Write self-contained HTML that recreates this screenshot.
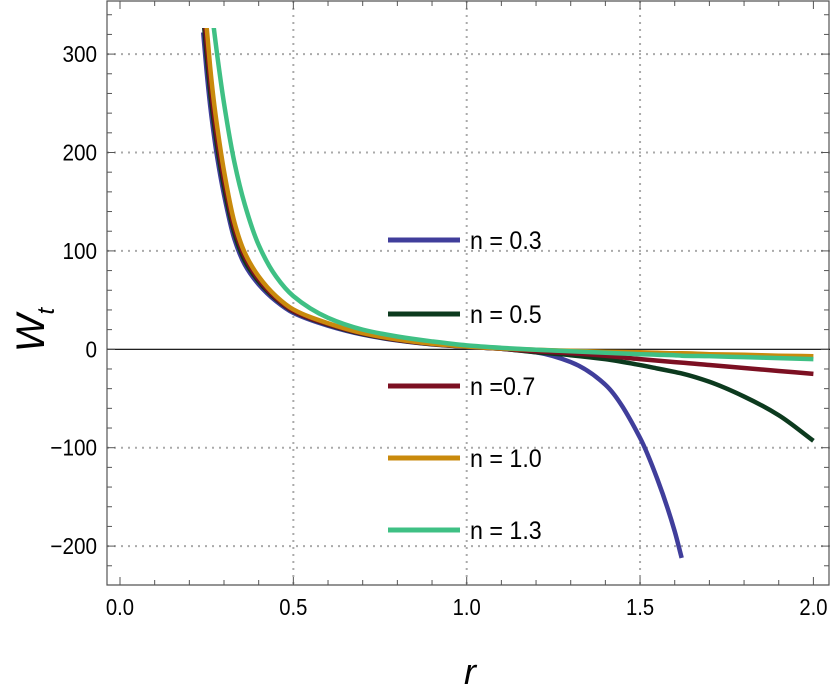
<!DOCTYPE html>
<html><head><meta charset="utf-8"><style>
body{margin:0;background:#fff;}
svg text{font-family:"Liberation Sans",sans-serif;}
</style></head><body>
<svg id="chart" width="830" height="692" viewBox="0 0 830 692" xmlns="http://www.w3.org/2000/svg">
<defs><clipPath id="clip"><rect x="107" y="28" width="723" height="557"/></clipPath></defs>
<g id="grid"></g>
<g id="axes"></g>
<g id="series" clip-path="url(#clip)"></g>
<g id="legend"></g>
<text x="0" y="0" transform="translate(44,330) rotate(-90)" text-anchor="middle" font-family="Liberation Serif,serif" font-style="italic" font-size="40">W<tspan font-size="24" dy="10">t</tspan></text>
<text x="470" y="684" text-anchor="middle" font-family="Liberation Sans,sans-serif" font-style="italic" font-size="36">r</text>
</svg>
<script>
const rGrid=[0.24,0.25,0.26,0.27,0.28,0.3,0.33,0.36,0.4,0.45,0.5,0.6,0.7,0.8,0.9,1.0,1.1,1.2,1.3,1.4,1.5,1.55,1.6,1.62,1.7,1.8,1.9,2.0];
const seriesNames=["n = 0.3","n = 0.5","n =0.7","n = 1.0","n = 1.3"];
const vals03=[322,282,248,220,196,157,112,86,66,49,37,24,15,9,5,2.5,0.5,-3,-13,-36,-90,-132,-185,-212,null,null,null,null];
const vals05=[340,298,262,232,207,165,118,90,69,51,38.5,25,15.5,9.3,5.2,2.6,0.5,-3,-6,-10,-16,-19.5,-23,-24.5,-33,-48,-67,-93];
const vals07=[354,310,272,241,215,172,123,94,71,52,39,25.5,16,9.6,5.4,2.7,0.6,-2,-4,-6.5,-10,-11.5,-13,-13.5,-16,-19,-22,-25];
const vals10=[374,327,287,254,227,181,129,98,74,54,40.5,26.5,16.5,10,5.6,2.8,0.8,-0.5,-1.5,-2.5,-3,-3.5,-4,-4,-5,-5.5,-6.5,-7];
const vals13=[450,400,360,328,300,250,190,147,106,74,54,32,20,13,8,4,1.5,-0.5,-2,-3.5,-5,-5.5,-6,-6.5,-7,-8,-9,-10];
const xTicks=[0.0,0.5,1.0,1.5,2.0];
const xTickLabels=["0.0","0.5","1.0","1.5","2.0"];
const yTicks=[300,200,100,0,-100,-200];
const yTickLabels=["300","200","100","0","\u2212100","\u2212200"];

const NS="http://www.w3.org/2000/svg";
const colors=["#403e9b","#0c3a1e","#7c1022","#c98a0c","#3fc084"];
const allVals=[vals03,vals05,vals07,vals10,vals13];
const X=r=>120+346.7*r;
const Y=v=>349.3-0.984*v;
function mk(tag,attrs,parent){const e=document.createElementNS(NS,tag);for(const k in attrs)e.setAttribute(k,attrs[k]);parent.appendChild(e);return e;}
const grid=document.getElementById('grid'),axes=document.getElementById('axes'),ser=document.getElementById('series'),leg=document.getElementById('legend');
xTicks.forEach(t=>{if(t>0&&t<2){const l=mk('line',{x1:X(t),x2:X(t),y1:1,y2:585,stroke:'#aaa','stroke-width':2,'stroke-dasharray':'2 5'},grid);

}});
yTicks.forEach(t=>{if(t!==0){const l=mk('line',{x1:107,x2:830,y1:Y(t),y2:Y(t),stroke:'#aaa','stroke-width':2,'stroke-dasharray':'2 5'},grid);

}});
const fr=mk('path',{d:'M107,1 L829,1 L829,585 L107,585 Z',fill:'none',stroke:'#555','stroke-width':1.2},axes);


const zl=mk('line',{x1:107,x2:830,y1:Y(0),y2:Y(0),stroke:'#000','stroke-width':1.2},axes);


for(let i=0;i<=20;i++){const t=i/10,big=(i%5===0);const x=X(t);
mk('line',{x1:x,x2:x,y1:585,y2:585-(big?8:5),stroke:'#555'},axes);
mk('line',{x1:x,x2:x,y1:1,y2:1+(big?8:5),stroke:'#555'},axes);}
for(let v=-240;v<=340;v+=20){const y=Y(v);if(y<1||y>585)continue;const big=(v%100===0);
mk('line',{x1:107,x2:107+(big?8:5),y1:y,y2:y,stroke:'#555'},axes);
mk('line',{x1:829,x2:829-(big?8:5),y1:y,y2:y,stroke:'#555'},axes);}
xTicks.forEach((t,i)=>{const tx=mk('text',{x:X(t),y:615,'text-anchor':'middle','font-size':23,transform:`translate(${X(t)},0) scale(0.88,1) translate(${-X(t)},0)`},axes);tx.textContent=xTickLabels[i];

});
yTicks.forEach((t,i)=>{const tx=mk('text',{x:97,y:Y(t)+8,'text-anchor':'end','font-size':23,transform:`translate(97,0) scale(0.9,1) translate(-97,0)`},axes);tx.textContent=yTickLabels[i];

});
// monotone cubic (Fritsch-Carlson) path
function pathFor(vals){const xs=[],ys=[];rGrid.forEach((r,i)=>{if(vals[i]!==null){xs.push(X(r));ys.push(Y(vals[i]));}});
const n=xs.length,d=[],m=new Array(n);
for(let i=0;i<n-1;i++)d.push((ys[i+1]-ys[i])/(xs[i+1]-xs[i]));
m[0]=d[0];m[n-1]=d[n-2];
for(let i=1;i<n-1;i++){if(d[i-1]*d[i]<=0)m[i]=0;else{const h0=xs[i]-xs[i-1],h1=xs[i+1]-xs[i];const w1=2*h1+h0,w2=h1+2*h0;m[i]=(w1+w2)/(w1/d[i-1]+w2/d[i]);}}
let p=`M${xs[0]},${ys[0]}`;
for(let i=0;i<n-1;i++){const h=(xs[i+1]-xs[i])/3;p+=` C${xs[i]+h},${ys[i]+m[i]*h} ${xs[i+1]-h},${ys[i+1]-m[i+1]*h} ${xs[i+1]},${ys[i+1]}`;}
return p;}
allVals.forEach((vals,k)=>{const p=mk('path',{d:pathFor(vals),fill:'none',stroke:colors[k],'stroke-width':4.5,'stroke-linejoin':'round'},ser);

});
const ly=[240,314,386,458,530];
seriesNames.forEach((n,k)=>{const g=mk('g',{},leg);


mk('line',{x1:388,x2:460,y1:ly[k],y2:ly[k],stroke:colors[k],'stroke-width':5},g);
const t=mk('text',{x:470,y:ly[k]+9,'font-size':25,transform:'translate(470,0) scale(0.93,1) translate(-470,0)'},g);t.textContent=n;});
</script>
</body></html>
